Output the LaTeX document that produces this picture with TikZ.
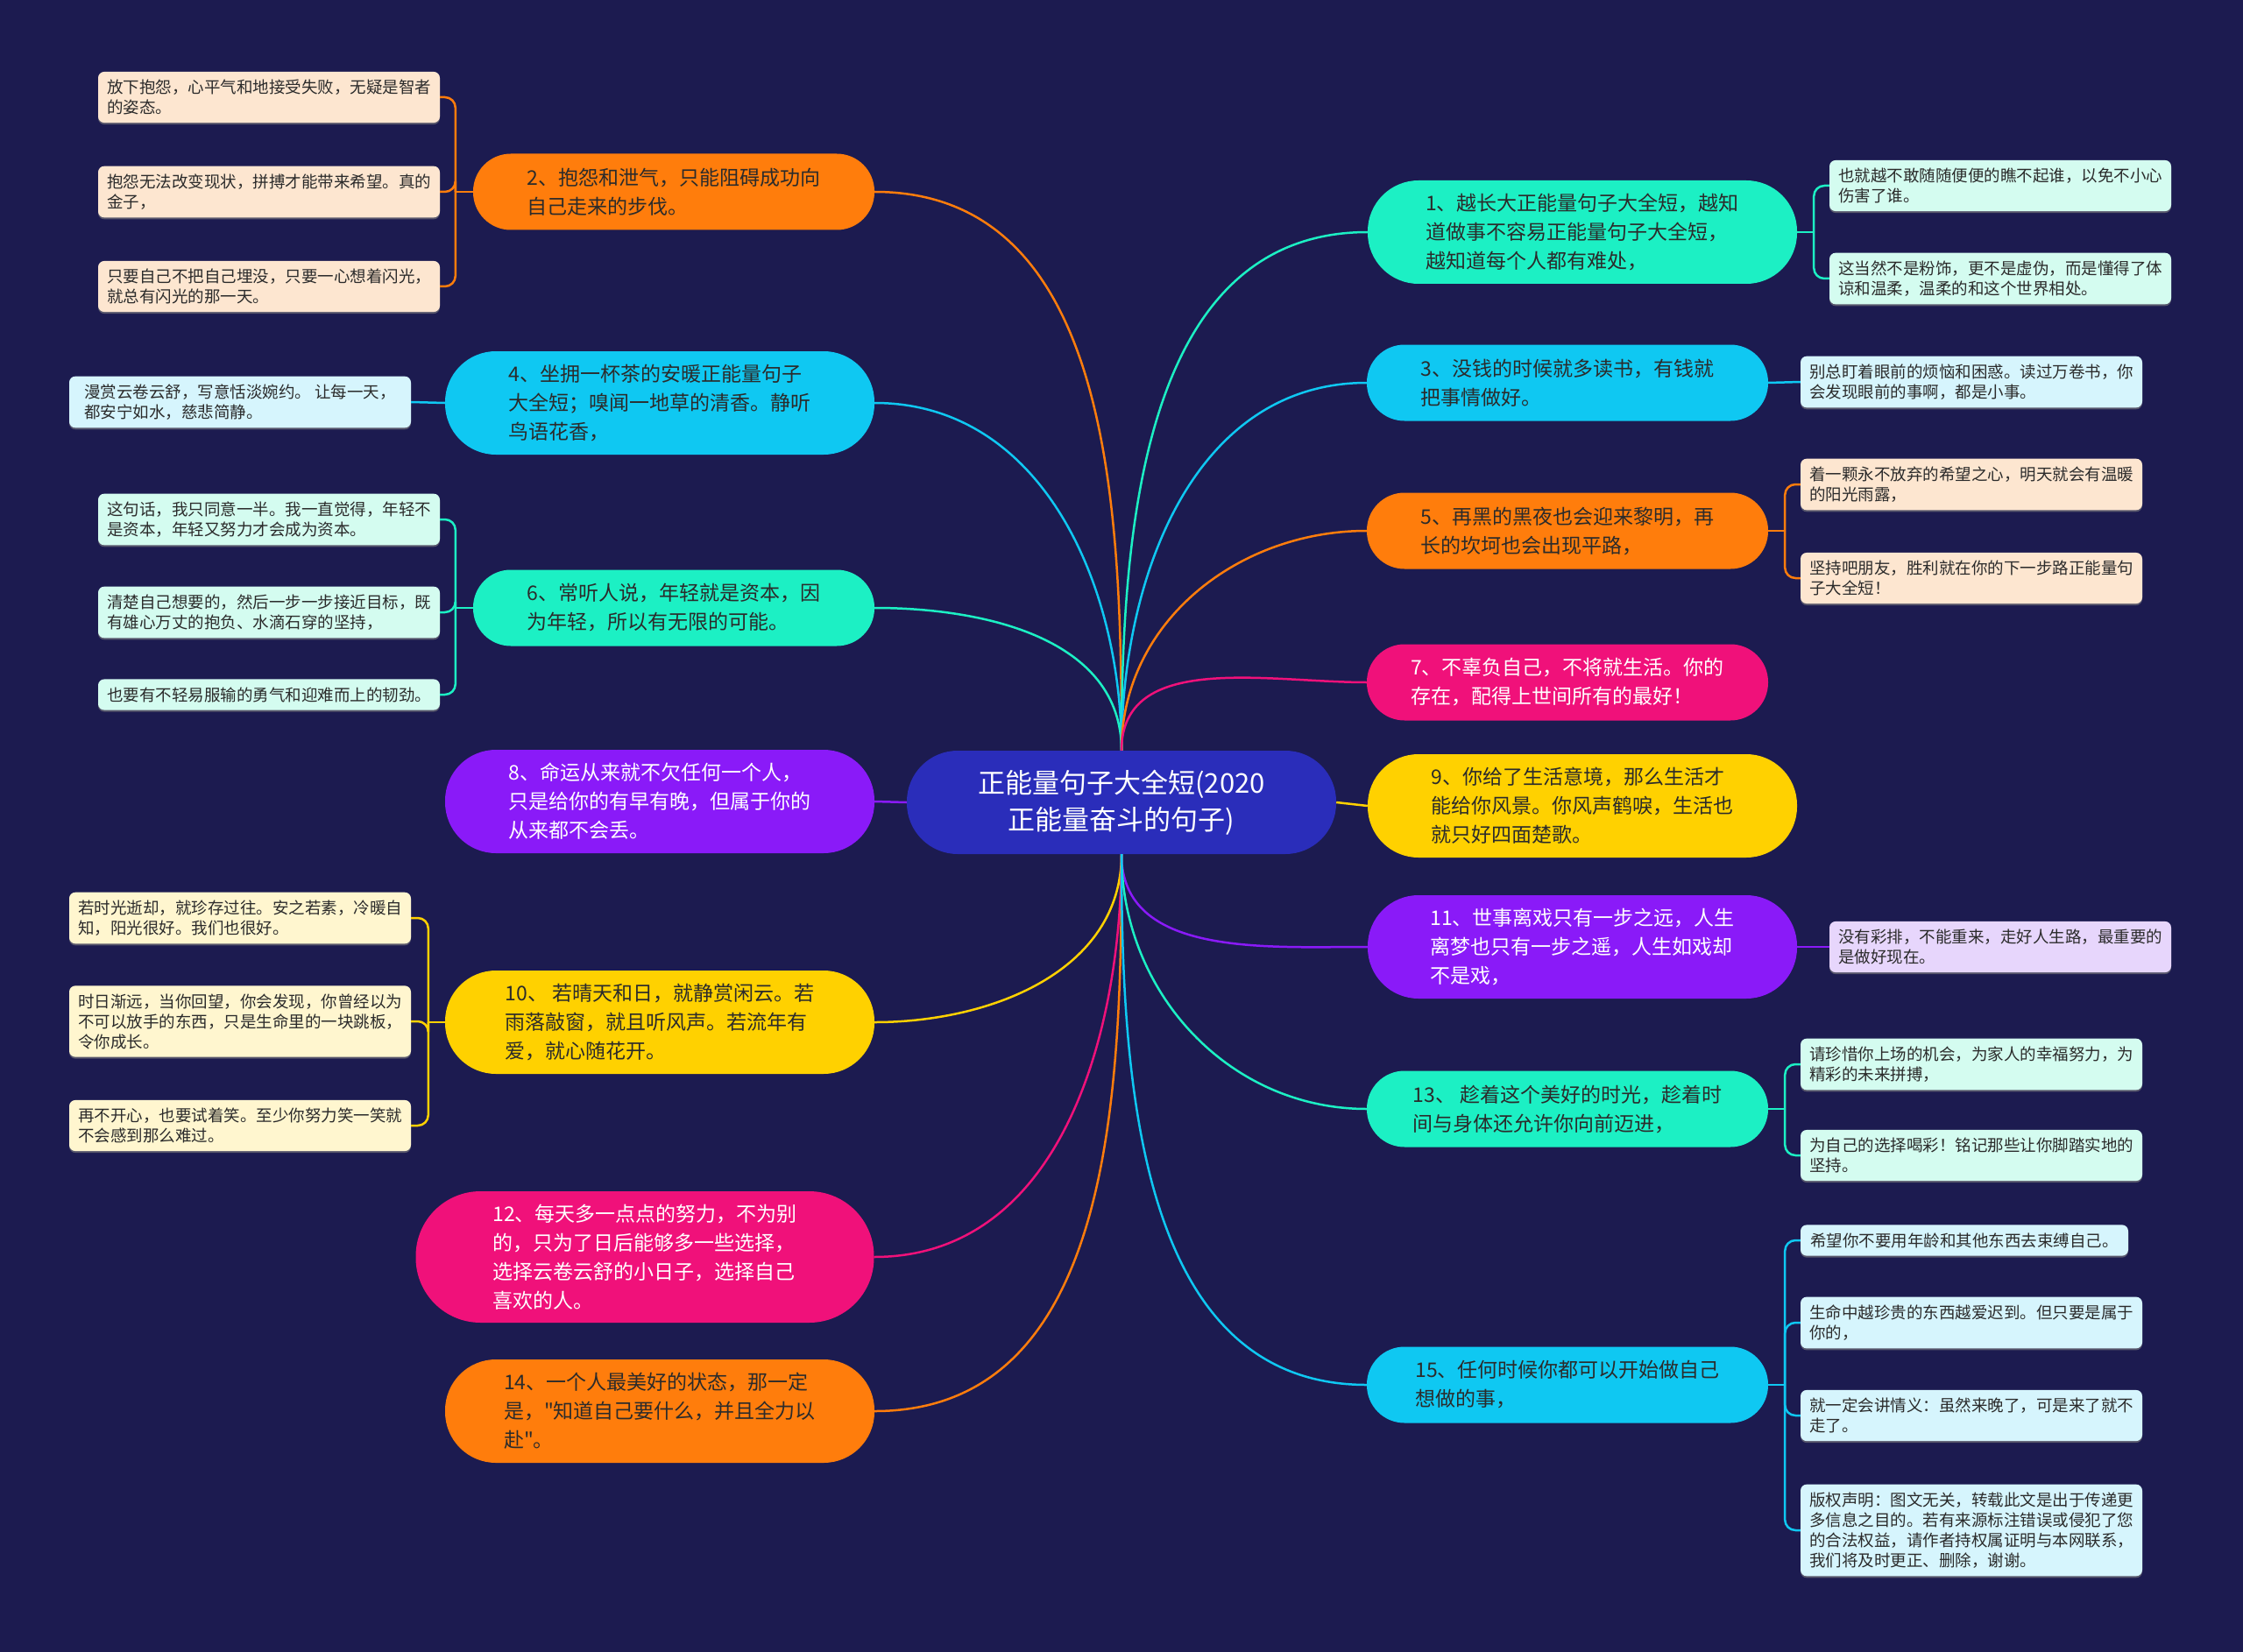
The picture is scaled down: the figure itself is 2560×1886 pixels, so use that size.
\documentclass[tikz,border=0pt]{standalone}
\usepackage{fontspec}
\setmainfont{Noto Sans CJK SC}[Ligatures=TeXOff]
\usepackage{tikz}
\usetikzlibrary{positioning,shadows}
\definecolor{navy}{HTML}{1C1B50}
\definecolor{rootblue}{HTML}{2A2DBA}
\definecolor{orng}{HTML}{FF7D0C}
\definecolor{cyanb}{HTML}{0FC8F2}
\definecolor{aqua}{HTML}{1CF0C4}
\definecolor{violet}{HTML}{8A1AF8}
\definecolor{gold}{HTML}{FFD100}
\definecolor{rose}{HTML}{F0117A}
\definecolor{orngleaf}{HTML}{FDE6D0}
\definecolor{cyanleaf}{HTML}{D6F5FD}
\definecolor{aqualeaf}{HTML}{D4FCF0}
\definecolor{goldleaf}{HTML}{FFF6CF}
\definecolor{violetleaf}{HTML}{E7D6FC}
\definecolor{ink}{HTML}{2B2B2B}

\begin{document}
\begin{tikzpicture}[x=1pt, y=1pt,
    topic/.style={rectangle, align=left, inner xsep=20pt, text=ink, font=\fontsize{23}{33}\selectfont},
    twoline/.style={topic, minimum width=458pt, minimum height=87pt, rounded corners=43pt},
    threeline/.style={topic, minimum width=490pt, minimum height=118pt, rounded corners=58pt},
    fourline/.style={topic, minimum width=523pt, minimum height=150pt, rounded corners=74pt},
    leaf/.style={rectangle, rounded corners=7pt, align=left, inner sep=9pt, minimum width=390pt, text=ink,
        font=\fontsize{18.5}{23}\selectfont, drop shadow={shadow xshift=0pt, shadow yshift=-2pt, opacity=.6}},
    link/.style={line width=2.5pt},
    twig/.style={link, rounded corners=12pt}
]
    \fill[navy] (0,0) rectangle (2560,-1886);
    \useasboundingbox (0,0) rectangle (2560,-1886);

    \node[rectangle, fill=rootblue, text=white, align=center, minimum width=490pt, minimum height=118pt,
        rounded corners=58pt, font=\fontsize{31}{42}\selectfont] (root) at (1280,-916)
        {正能量句子大全短(2020\\正能量奋斗的句子)};

    % left topics
    \node[twoline, fill=orng] (b2) at (769,-219) {2、抱怨和泄气，只能阻碍成功向\\自己走来的步伐。};
    \node[threeline, fill=cyanb] (b4) at (753,-460) {4、坐拥一杯茶的安暖正能量句子\\大全短；嗅闻一地草的清香。静听\\鸟语花香，};
    \node[twoline, fill=aqua] (b6) at (769,-694) {6、常听人说，年轻就是资本，因\\为年轻，所以有无限的可能。};
    \node[threeline, fill=violet, text=white] (b8) at (753,-915) {8、命运从来就不欠任何一个人，\\只是给你的有早有晚，但属于你的\\从来都不会丢。};
    \node[threeline, fill=gold] (b10) at (753,-1167) {10、 若晴天和日，就静赏闲云。若\\雨落敲窗，就且听风声。若流年有\\爱，就心随花开。};
    \node[fourline, fill=rose, text=white] (b12) at (736,-1435) {12、每天多一点点的努力，不为别\\的，只为了日后能够多一些选择，\\选择云卷云舒的小日子，选择自己\\喜欢的人。};
    \node[threeline, fill=orng] (b14) at (753,-1611) {14、一个人最美好的状态，那一定\\是，"知道自己要什么，并且全力以\\赴"。};

    % right topics
    \node[threeline, fill=aqua] (b1) at (1806,-265) {1、越长大正能量句子大全短，越知\\道做事不容易正能量句子大全短，\\越知道每个人都有难处，};
    \node[twoline, fill=cyanb] (b3) at (1789,-437) {3、没钱的时候就多读书，有钱就\\把事情做好。};
    \node[twoline, fill=orng] (b5) at (1789,-606) {5、再黑的黑夜也会迎来黎明，再\\长的坎坷也会出现平路，};
    \node[twoline, fill=rose, text=white] (b7) at (1789,-779) {7、不辜负自己，不将就生活。你的\\存在，配得上世间所有的最好！};
    \node[threeline, fill=gold] (b9) at (1806,-920) {9、你给了生活意境，那么生活才\\能给你风景。你风声鹤唳，生活也\\就只好四面楚歌。};
    \node[threeline, fill=violet, text=white] (b11) at (1806,-1081) {11、世事离戏只有一步之远，人生\\离梦也只有一步之遥，人生如戏却\\不是戏，};
    \node[twoline, fill=aqua] (b13) at (1789,-1266) {13、 趁着这个美好的时光，趁着时\\间与身体还允许你向前迈进，};
    \node[twoline, fill=cyanb] (b15) at (1789,-1581) {15、任何时候你都可以开始做自己\\想做的事，};

    % left leaves
    \node[leaf, fill=orngleaf] (L2a) at (307,-111) {放下抱怨，心平气和地接受失败，无疑是智者\\的姿态。};
    \node[leaf, fill=orngleaf] (L2b) at (307,-219) {抱怨无法改变现状，拼搏才能带来希望。真的\\金子，};
    \node[leaf, fill=orngleaf] (L2c) at (307,-327) {只要自己不把自己埋没，只要一心想着闪光，\\就总有闪光的那一天。};
    \node[leaf, fill=cyanleaf] (L4) at (274,-459) {漫赏云卷云舒，写意恬淡婉约。 让每一天，\\都安宁如水，慈悲简静。};
    \node[leaf, fill=aqualeaf] (L6a) at (307,-593) {这句话，我只同意一半。我一直觉得，年轻不\\是资本，年轻又努力才会成为资本。};
    \node[leaf, fill=aqualeaf] (L6b) at (307,-699) {清楚自己想要的，然后一步一步接近目标，既\\有雄心万丈的抱负、水滴石穿的坚持，};
    \node[leaf, fill=aqualeaf] (L6c) at (307,-793) {也要有不轻易服输的勇气和迎难而上的韧劲。};
    \node[leaf, fill=goldleaf] (L10a) at (274,-1048) {若时光逝却，就珍存过往。安之若素，冷暖自\\知，阳光很好。我们也很好。};
    \node[leaf, fill=goldleaf] (L10b) at (274,-1166) {时日渐远，当你回望，你会发现，你曾经以为\\不可以放手的东西，只是生命里的一块跳板，\\令你成长。};
    \node[leaf, fill=goldleaf] (L10c) at (274,-1285) {再不开心，也要试着笑。至少你努力笑一笑就\\不会感到那么难过。};

    % right leaves
    \node[leaf, fill=aqualeaf] (R1a) at (2283,-212) {也就越不敢随随便便的瞧不起谁，以免不小心\\伤害了谁。};
    \node[leaf, fill=aqualeaf] (R1b) at (2283,-318) {这当然不是粉饰，更不是虚伪，而是懂得了体\\谅和温柔，温柔的和这个世界相处。};
    \node[leaf, fill=cyanleaf] (R3) at (2250,-436) {别总盯着眼前的烦恼和困惑。读过万卷书，你\\会发现眼前的事啊，都是小事。};
    \node[leaf, fill=orngleaf] (R5a) at (2250,-553) {着一颗永不放弃的希望之心，明天就会有温暖\\的阳光雨露，};
    \node[leaf, fill=orngleaf] (R5b) at (2250,-660) {坚持吧朋友，胜利就在你的下一步路正能量句\\子大全短！};
    \node[leaf, fill=violetleaf] (R11) at (2283,-1081) {没有彩排，不能重来，走好人生路，最重要的\\是做好现在。};
    \node[leaf, fill=aqualeaf] (R13a) at (2250,-1215) {请珍惜你上场的机会，为家人的幸福努力，为\\精彩的未来拼搏，};
    \node[leaf, fill=aqualeaf] (R13b) at (2250,-1319) {为自己的选择喝彩！铭记那些让你脚踏实地的\\坚持。};
    \node[leaf, fill=cyanleaf, minimum width=374pt] (R15a) at (2242,-1416) {希望你不要用年龄和其他东西去束缚自己。};
    \node[leaf, fill=cyanleaf] (R15b) at (2250,-1510) {生命中越珍贵的东西越爱迟到。但只要是属于\\你的，};
    \node[leaf, fill=cyanleaf] (R15c) at (2250,-1616) {就一定会讲情义：虽然来晚了，可是来了就不\\走了。};
    \node[leaf, fill=cyanleaf] (R15d) at (2250,-1747) {版权声明：图文无关，转载此文是出于传递更\\多信息之目的。若有来源标注错误或侵犯了您\\的合法权益，请作者持权属证明与本网联系，\\我们将及时更正、删除，谢谢。};

    % root to topics
    \draw[link, orng] (root.north) to[out=90, in=0] (b2.east);
    \draw[link, cyanb] (root.north) to[out=90, in=0] (b4.east);
    \draw[link, aqua] (root.north) to[out=90, in=0] (b6.east);
    \draw[link, violet] (root.west) -- (b8.east);
    \draw[link, gold] (root.south) to[out=-90, in=0] (b10.east);
    \draw[link, rose] (root.south) to[out=-90, in=0] (b12.east);
    \draw[link, orng] (root.south) to[out=-90, in=0] (b14.east);
    \draw[link, aqua] (root.north) to[out=90, in=180] (b1.west);
    \draw[link, cyanb] (root.north) to[out=90, in=180] (b3.west);
    \draw[link, orng] (root.north) to[out=90, in=180] (b5.west);
    \draw[link, rose] (root.north) to[out=90, in=180] (b7.west);
    \draw[link, gold] (root.east) -- (b9.west);
    \draw[link, violet] (root.south) to[out=-90, in=180] (b11.west);
    \draw[link, aqua] (root.south) to[out=-90, in=180] (b13.west);
    \draw[link, cyanb] (root.south) to[out=-90, in=180] (b15.west);

    % topics to leaves
    \draw[link, orng] (b2.west) -- ++(-20,0) coordinate (j2);
    \foreach \l in {L2a,L2b,L2c} \draw[twig, orng] (j2) |- (\l.east);
    \draw[link, cyanb] (b4.west) -- (L4.east);
    \draw[link, aqua] (b6.west) -- ++(-20,0) coordinate (j6);
    \foreach \l in {L6a,L6b,L6c} \draw[twig, aqua] (j6) |- (\l.east);
    \draw[link, gold] (b10.west) -- ++(-19,0) coordinate (j10);
    \foreach \l in {L10a,L10b,L10c} \draw[twig, gold] (j10) |- (\l.east);

    \draw[link, aqua] (b1.east) -- ++(19,0) coordinate (j1);
    \foreach \l in {R1a,R1b} \draw[twig, aqua] (j1) |- (\l.west);
    \draw[link, cyanb] (b3.east) -- (R3.west);
    \draw[link, orng] (b5.east) -- ++(19,0) coordinate (j5);
    \foreach \l in {R5a,R5b} \draw[twig, orng] (j5) |- (\l.west);
    \draw[link, violet] (b11.east) -- (R11.west);
    \draw[link, aqua] (b13.east) -- ++(19,0) coordinate (j13);
    \foreach \l in {R13a,R13b} \draw[twig, aqua] (j13) |- (\l.west);
    \draw[link, cyanb] (b15.east) -- ++(19,0) coordinate (j15);
    \foreach \l in {R15a,R15b,R15c,R15d} \draw[twig, cyanb] (j15) |- (\l.west);
\end{tikzpicture}
\end{document}
